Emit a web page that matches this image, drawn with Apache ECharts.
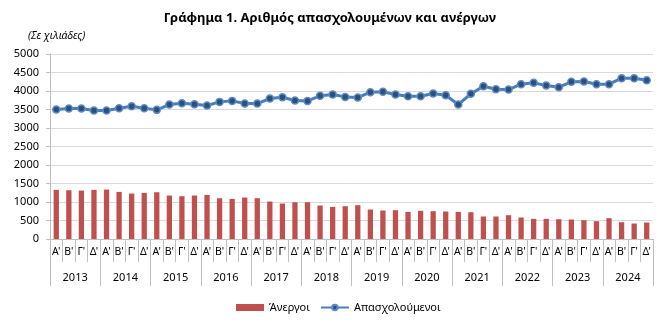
<!DOCTYPE html>
<html>
<head>
<meta charset="utf-8">
<script src="https://cdn.jsdelivr.net/npm/echarts@6/dist/echarts.min.js"></script>
<style>html,body{margin:0;padding:0;background:#fff}#c{width:660px;height:332px}</style>
</head>
<body>
<div id="c"></div>
<script>
var years = ['2013','2014','2015','2016','2017','2018','2019','2020','2021','2022','2023','2024'];
var quarterNames = ["Α'","Β'","Γ'","Δ'"];
var unemployed = [1327,1318,1309,1327, 1336,1273,1228,1246, 1264,1174,1156,1174, 1192,1102,1084,1120,
  1102,1012,958,994, 994,904,868,886, 913,797,770,779, 733,761,752,743,
  733,724,608,608, 643,581,544,544, 535,526,508,481, 562,454,418,445];
var employed = [3500,3527,3527,3473, 3473,3535,3589,3535, 3490,3635,3670,3643, 3607,3706,3733,3661,
  3661,3797,3833,3742, 3733,3869,3905,3841, 3824,3968,3977,3905, 3860,3860,3932,3887,
  3635,3923,4130,4049, 4040,4184,4220,4148, 4103,4247,4256,4184, 4184,4346,4346,4292];
var yTicks = {min:0, max:5000, interval:500};

var categories = [];
years.forEach(function(y){ quarterNames.forEach(function(q){ categories.push(y+' '+q); }); });

var font = "'Noto Sans', sans-serif";
var chart = echarts.init(document.getElementById('c'));
chart.setOption({
  animation:false,
  backgroundColor:'#fff',
  title:[
    {text:'Γράφημα 1. Αριθμός απασχολουμένων και ανέργων', left:'center', top:7,
     textStyle:{fontFamily:font, fontSize:13, fontWeight:'bold', color:'#000'}},
    {text:'(Σε χιλιάδες)', left:23, top:26,
     textStyle:{fontFamily:font, fontSize:10.5, fontStyle:'italic', fontWeight:'normal', color:'#000'}}
  ],
  legend:{
    top:297, left:231, itemGap:10, itemWidth:28, itemHeight:7,
    textStyle:{fontFamily:font, fontSize:11, color:'#000'},
    data:[{name:'Άνεργοι', icon:'rect'}, {name:'Απασχολούμενοι'}]
  },
  grid:{left:50, right:7, top:54, bottom:93},
  xAxis:[
    {type:'category', data:categories, position:'bottom',
     axisLine:{show:true, lineStyle:{color:'#BFBFBF'}},
     axisTick:{show:true, length:23, lineStyle:{color:'#BFBFBF'}},
     axisLabel:{margin:8, interval:0, fontFamily:font, fontSize:10.5, color:'#000',
       formatter:function(v){ return v.split(' ')[1]; }},
     splitLine:{show:false}},
    {type:'category', data:years, position:'bottom', offset:0,
     axisLine:{show:false},
     axisTick:{show:true, length:47, lineStyle:{color:'#BFBFBF'}},
     axisLabel:{margin:33, interval:0, fontFamily:font, fontSize:11, color:'#000'},
     splitLine:{show:false}}
  ],
  yAxis:{type:'value', min:yTicks.min, max:yTicks.max, interval:yTicks.interval,
    axisLine:{show:true, lineStyle:{color:'#BFBFBF'}},
    axisTick:{show:true, length:4, lineStyle:{color:'#BFBFBF'}},
    axisLabel:{fontFamily:font, fontSize:11, color:'#000', margin:11,
      formatter:function(v){ return String(v); }},
    splitLine:{lineStyle:{color:'#D9D9D9'}}},
  series:[
    {name:'Άνεργοι', type:'bar', xAxisIndex:0, data:unemployed, barWidth:'42%',
     itemStyle:{color:'#C0504D'}},
    {name:'Απασχολούμενοι', type:'line', xAxisIndex:0, data:employed,
     symbol:'circle', symbolSize:7,
     lineStyle:{color:'#4A7EBB', width:3},
     itemStyle:{color:'#2D4F7C', borderColor:'#5B8BC7', borderWidth:1.5}}
  ]
});
</script>
</body>
</html>
